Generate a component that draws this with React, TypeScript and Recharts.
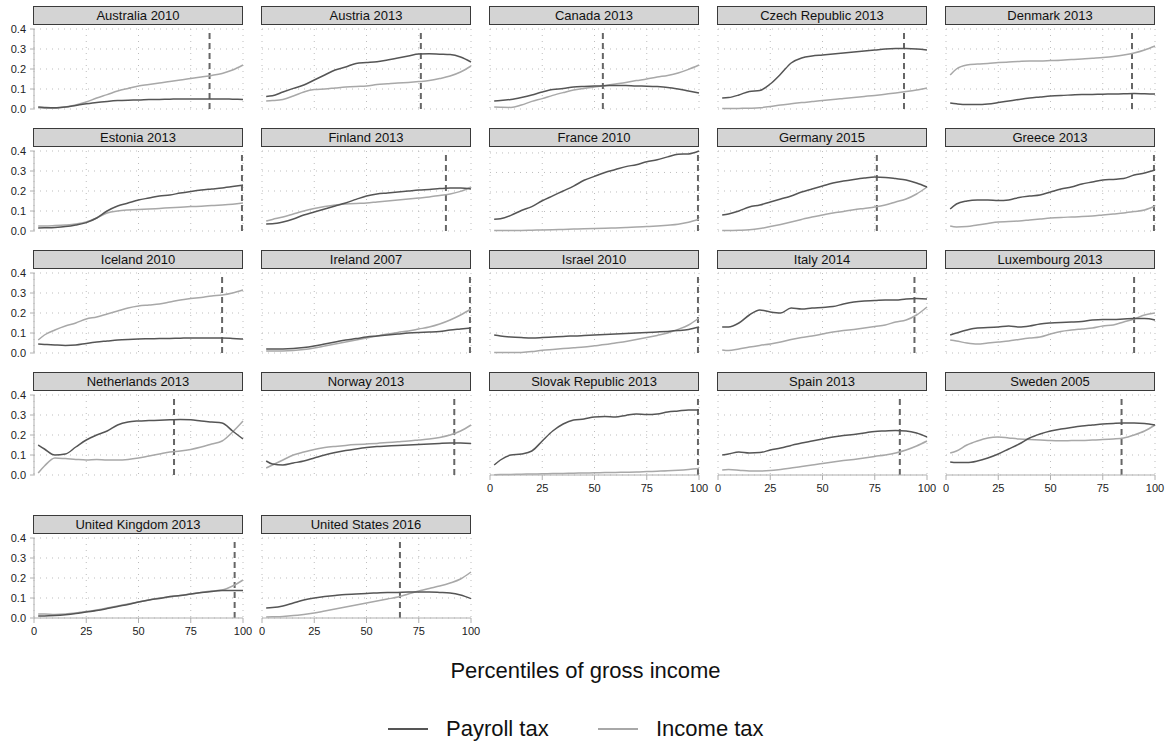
import { LineChart, Line, XAxis, YAxis, CartesianGrid, ReferenceLine } from "recharts";

const pct = [2, 5, 10, 15, 20, 25, 30, 35, 40, 45, 50, 55, 60, 65, 70, 75, 80, 85, 90, 95, 100];

const titles = [
  "Australia 2010", "Austria 2013", "Canada 2013", "Czech Republic 2013", "Denmark 2013",
  "Estonia 2013", "Finland 2013", "France 2010", "Germany 2015", "Greece 2013",
  "Iceland 2010", "Ireland 2007", "Israel 2010", "Italy 2014", "Luxembourg 2013",
  "Netherlands 2013", "Norway 2013", "Slovak Republic 2013", "Spain 2013", "Sweden 2005",
  "United Kingdom 2013", "United States 2016",
];

// percentile of the vertical dashed marker
const cutoffs = [84, 76, 54, 89, 89, 99.5, 88, 99.5, 76, 99.5, 90, 99.5, 99.5, 94, 90, 67, 92, 99.5, 87, 84, 96, 66];

const payroll = [
  [0.01, 0.008, 0.006, 0.01, 0.018, 0.026, 0.033, 0.038, 0.042, 0.044, 0.045, 0.047, 0.048, 0.049, 0.05, 0.05, 0.05, 0.05, 0.05, 0.049, 0.048],
  [0.063, 0.066, 0.085, 0.103, 0.12, 0.145, 0.17, 0.195, 0.21, 0.228, 0.232, 0.236, 0.245, 0.255, 0.265, 0.275, 0.276, 0.274, 0.272, 0.26, 0.235],
  [0.04, 0.042, 0.048, 0.058, 0.07, 0.085, 0.097, 0.102, 0.11, 0.113, 0.115, 0.116, 0.118, 0.117, 0.115, 0.114, 0.112, 0.108, 0.1, 0.09, 0.08],
  [0.055, 0.057, 0.07, 0.088, 0.093, 0.125, 0.175, 0.23, 0.255, 0.265, 0.27, 0.275, 0.28, 0.285, 0.29, 0.295, 0.3, 0.302, 0.302, 0.3, 0.295],
  [0.03, 0.026, 0.022, 0.022, 0.025, 0.032, 0.04, 0.048, 0.055, 0.06, 0.065, 0.068, 0.07, 0.072, 0.073, 0.074, 0.075, 0.076, 0.077, 0.076, 0.075],
  [0.015, 0.016, 0.018, 0.022, 0.03, 0.042, 0.065, 0.1, 0.125, 0.14, 0.155, 0.165, 0.175, 0.18, 0.19, 0.198, 0.205, 0.21, 0.215, 0.222, 0.23],
  [0.035, 0.036, 0.045, 0.06, 0.08, 0.095, 0.11, 0.125, 0.14, 0.158, 0.175, 0.185, 0.19, 0.195, 0.2, 0.205, 0.208, 0.212, 0.215, 0.215, 0.21],
  [0.06, 0.063, 0.08, 0.105, 0.125, 0.155, 0.18, 0.205, 0.23, 0.26, 0.28, 0.3, 0.315, 0.33, 0.34, 0.355, 0.365, 0.38, 0.393, 0.395, 0.41],
  [0.08, 0.085, 0.1, 0.12, 0.13, 0.145, 0.16, 0.175, 0.195, 0.21, 0.225, 0.24, 0.25, 0.258, 0.265, 0.27, 0.268, 0.262, 0.255, 0.24, 0.22],
  [0.11, 0.135, 0.15, 0.155, 0.155, 0.152, 0.155, 0.168, 0.175, 0.18, 0.195, 0.21, 0.22, 0.235, 0.245, 0.255, 0.258, 0.262, 0.28, 0.29, 0.305],
  [0.045, 0.043, 0.04, 0.038, 0.04, 0.048, 0.055, 0.06, 0.065, 0.068, 0.07, 0.071, 0.072, 0.073, 0.074, 0.075, 0.075, 0.075, 0.075, 0.073, 0.07],
  [0.02, 0.02, 0.02, 0.022, 0.027, 0.035, 0.045, 0.055, 0.065, 0.072, 0.08, 0.085, 0.09, 0.095, 0.1, 0.103, 0.105, 0.108, 0.115, 0.12, 0.125],
  [0.09, 0.085, 0.08, 0.077, 0.075, 0.077, 0.08, 0.083, 0.085, 0.087, 0.09, 0.092, 0.095, 0.097, 0.1, 0.102, 0.105, 0.108, 0.112, 0.118, 0.13],
  [0.13, 0.13, 0.15, 0.19, 0.215, 0.205, 0.2, 0.225, 0.22, 0.225, 0.228, 0.232, 0.245, 0.255, 0.26, 0.262, 0.265, 0.265, 0.27, 0.272, 0.27],
  [0.09, 0.1, 0.115, 0.125, 0.127, 0.13, 0.135, 0.13, 0.135, 0.145, 0.15, 0.153, 0.155, 0.158, 0.165, 0.168, 0.168, 0.17, 0.172, 0.172, 0.165],
  [0.15, 0.13, 0.1, 0.105, 0.14, 0.175, 0.2, 0.22, 0.25, 0.265, 0.27, 0.272, 0.274, 0.276, 0.278, 0.276, 0.27, 0.265, 0.26, 0.22, 0.18],
  [0.07, 0.055, 0.05, 0.06, 0.07, 0.085, 0.1, 0.112, 0.122, 0.13, 0.137, 0.142, 0.145, 0.148, 0.15, 0.153, 0.155, 0.158, 0.16, 0.16, 0.158],
  [0.05, 0.075, 0.1, 0.105, 0.12, 0.17, 0.22, 0.255, 0.275, 0.28, 0.29, 0.292, 0.29, 0.298, 0.305, 0.302, 0.305, 0.315, 0.32, 0.325, 0.325],
  [0.1, 0.105, 0.115, 0.11, 0.112, 0.125, 0.135, 0.148, 0.16, 0.17, 0.18, 0.19, 0.197, 0.203, 0.21, 0.218, 0.22, 0.222, 0.22, 0.21, 0.19],
  [0.065, 0.062, 0.062, 0.07, 0.085, 0.105, 0.13, 0.155, 0.185, 0.205, 0.22, 0.23, 0.238, 0.245, 0.25, 0.255, 0.258, 0.26, 0.26, 0.258, 0.25],
  [0.01, 0.01, 0.012, 0.016, 0.022, 0.03, 0.037, 0.047, 0.058, 0.068, 0.08, 0.09, 0.098, 0.107, 0.112, 0.12, 0.127, 0.133, 0.137, 0.138, 0.138],
  [0.05, 0.052, 0.06, 0.075, 0.09, 0.1, 0.107, 0.113, 0.118, 0.12, 0.123, 0.125, 0.127, 0.128, 0.13, 0.13, 0.13, 0.128, 0.125, 0.115, 0.097],
];

const income = [
  [0.006, 0.004, 0.004, 0.01, 0.02, 0.035, 0.055, 0.072, 0.09, 0.103, 0.115, 0.122, 0.13, 0.137, 0.145, 0.152, 0.16, 0.168, 0.178, 0.195, 0.22],
  [0.04, 0.042, 0.048, 0.065, 0.085, 0.097, 0.1, 0.105, 0.11, 0.113, 0.115, 0.122, 0.126, 0.13, 0.133, 0.137, 0.142, 0.152, 0.165, 0.185, 0.215],
  [0.01, 0.009, 0.008, 0.02, 0.038, 0.052, 0.068, 0.082, 0.095, 0.103, 0.11, 0.117, 0.125, 0.133, 0.142, 0.15, 0.16, 0.168, 0.18, 0.198, 0.22],
  [0.002, 0.002, 0.003, 0.004, 0.006, 0.012, 0.02, 0.026, 0.032, 0.037, 0.042, 0.048, 0.053, 0.058, 0.063, 0.068, 0.074, 0.08, 0.087, 0.095, 0.105],
  [0.17, 0.2, 0.22, 0.225, 0.228, 0.232, 0.235, 0.238, 0.24, 0.24, 0.242, 0.244, 0.247, 0.25, 0.254, 0.258, 0.263, 0.27, 0.28, 0.295, 0.315],
  [0.025, 0.025, 0.027, 0.03, 0.035, 0.045, 0.065, 0.09, 0.1, 0.105, 0.108, 0.11, 0.113, 0.116, 0.119, 0.122, 0.124, 0.127, 0.13, 0.134, 0.14],
  [0.05, 0.058, 0.07, 0.085, 0.1, 0.112, 0.122, 0.13, 0.135, 0.138, 0.14, 0.145, 0.15, 0.155, 0.16, 0.165, 0.17, 0.178, 0.185, 0.198, 0.22],
  [0.002, 0.002, 0.003, 0.003, 0.004, 0.005, 0.006, 0.008, 0.01, 0.012, 0.013, 0.014, 0.016, 0.018, 0.02, 0.023, 0.026, 0.03, 0.035, 0.045, 0.06],
  [0.003, 0.003, 0.004, 0.006, 0.012, 0.022, 0.033, 0.045, 0.058, 0.07, 0.08, 0.09, 0.098, 0.106, 0.113, 0.12, 0.13, 0.145, 0.16, 0.185, 0.22],
  [0.025, 0.02, 0.022, 0.03, 0.038, 0.045, 0.047, 0.05, 0.055, 0.06, 0.065, 0.068, 0.07, 0.072, 0.075, 0.08, 0.085, 0.09, 0.097, 0.105, 0.125],
  [0.065, 0.09, 0.115, 0.135, 0.15, 0.17, 0.18, 0.195, 0.21, 0.225, 0.235, 0.24, 0.245, 0.255, 0.265, 0.272, 0.278, 0.285, 0.29, 0.3, 0.315],
  [0.01, 0.01, 0.01, 0.012, 0.017, 0.025, 0.035, 0.045, 0.055, 0.065, 0.075, 0.085, 0.095, 0.103, 0.11, 0.12, 0.13, 0.145, 0.165, 0.19, 0.22],
  [0.002, 0.002, 0.002, 0.003, 0.007, 0.014, 0.018, 0.022, 0.026, 0.03, 0.036, 0.042, 0.05, 0.058, 0.067, 0.077, 0.088, 0.1, 0.118, 0.14, 0.175],
  [0.015, 0.012, 0.02, 0.03, 0.038, 0.045, 0.055, 0.068, 0.078, 0.085, 0.095, 0.105, 0.112, 0.118, 0.125, 0.133, 0.14, 0.155, 0.165, 0.19, 0.23],
  [0.065, 0.06, 0.05, 0.045, 0.05, 0.055, 0.06, 0.068, 0.075, 0.08, 0.095, 0.108, 0.115, 0.12, 0.125, 0.135, 0.14, 0.155, 0.17, 0.19, 0.2],
  [0.01, 0.045, 0.085, 0.082, 0.078, 0.075, 0.078, 0.075, 0.075, 0.078, 0.085, 0.095, 0.105, 0.115, 0.12, 0.128, 0.14, 0.155, 0.17, 0.215, 0.27],
  [0.035, 0.05, 0.075, 0.1, 0.115, 0.128, 0.137, 0.143, 0.148, 0.152, 0.155, 0.158, 0.162, 0.166, 0.17, 0.175, 0.18, 0.188, 0.2, 0.22, 0.25],
  [0.001, 0.002, 0.003, 0.004, 0.005, 0.006, 0.007, 0.008, 0.009, 0.01, 0.011, 0.012, 0.013, 0.014, 0.015, 0.017, 0.019, 0.021, 0.024, 0.028, 0.033],
  [0.025, 0.027, 0.024, 0.02, 0.02, 0.022, 0.028, 0.035, 0.042, 0.05, 0.057, 0.065, 0.072, 0.078, 0.085, 0.093, 0.1, 0.11, 0.125, 0.145, 0.17],
  [0.11, 0.12, 0.15, 0.17, 0.185, 0.19, 0.185, 0.18, 0.177, 0.175, 0.172, 0.171, 0.172, 0.173, 0.175, 0.177, 0.18, 0.185, 0.2, 0.22, 0.25],
  [0.02, 0.02, 0.018, 0.02, 0.025, 0.032, 0.04, 0.05, 0.06, 0.07, 0.08, 0.09, 0.1, 0.105, 0.112, 0.12, 0.128, 0.135, 0.14, 0.16, 0.19],
  [0.005, 0.006, 0.008, 0.012, 0.018, 0.025, 0.035, 0.045, 0.055, 0.065, 0.075, 0.085, 0.095, 0.105, 0.12, 0.135, 0.148, 0.16, 0.175, 0.195, 0.23],
];

const xTicks = [0, 25, 50, 75, 100];
const yTicks = [0, 0.1, 0.2, 0.3, 0.4];

const PAYROLL_COLOR = "#555555";
const INCOME_COLOR = "#a8a8a8";
const FONT = "'Liberation Sans', Arial, Helvetica, sans-serif";

// layout of the small multiples
const COLS = 5;
const PLOT_W = 209;
const PLOT_H = 80;
const Y_AXIS_W = 34;
const PAD = 8;
const colLeft = [34, 262, 490, 718, 946];
const rowTop = [29, 151, 273, 395, 538];

const Panel = ({ idx }: { idx: number }) => {
  const r = Math.floor(idx / COLS);
  const c = idx % COLS;
  const showY = c === 0;
  const showX = idx + COLS >= titles.length;
  const plotLeft = colLeft[c];
  const plotTop = rowTop[r];

  const rows = pct.map((p, i) => ({ pct: p, payroll: payroll[idx][i], income: income[idx][i] }));

  const leftSpace = showY ? Y_AXIS_W : PAD;
  const width = leftSpace + PLOT_W + 14;
  const height = PAD + PLOT_H + (showX ? 26 : PAD);

  return (
    <>
      <div
        style={{
          position: "absolute",
          left: plotLeft - 1,
          top: plotTop - 23,
          width: PLOT_W + 1,
          height: 19,
          boxSizing: "border-box",
          background: "#d4d4d4",
          border: "1px solid #3a3a3a",
          textAlign: "center",
          fontSize: 13,
          lineHeight: "17px",
          color: "#111",
        }}
      >
        {titles[idx]}
      </div>
      <div style={{ position: "absolute", left: plotLeft - leftSpace, top: plotTop - PAD }}>
        <LineChart
          width={width}
          height={height}
          data={rows}
          margin={{ top: PAD, right: 14, bottom: showX ? 0 : PAD, left: showY ? 0 : PAD }}
        >
          <CartesianGrid
            stroke="#bdbdbd"
            strokeDasharray="1 5"
            horizontalValues={yTicks}
            verticalValues={xTicks}
          />
          <XAxis
            type="number"
            dataKey="pct"
            domain={[0, 100]}
            ticks={xTicks}
            hide={!showX}
            height={26}
            tickSize={5}
            tickMargin={4}
            stroke="#b0b0b0"
            tick={{ fill: "#222", fontSize: 11 }}
            interval={0}
          />
          <YAxis
            type="number"
            domain={[0, 0.4]}
            ticks={yTicks}
            hide={!showY}
            width={Y_AXIS_W}
            tickSize={4}
            tickMargin={4}
            stroke="#b0b0b0"
            tick={{ fill: "#222", fontSize: 11 }}
            tickFormatter={(v: number) => v.toFixed(1)}
            interval={0}
          />
          <ReferenceLine x={cutoffs[idx]} stroke="#666" strokeWidth={2} strokeDasharray="6 4" />
          <Line type="monotone" dataKey="income" stroke={INCOME_COLOR} strokeWidth={1.5} dot={false} isAnimationActive={false} />
          <Line type="monotone" dataKey="payroll" stroke={PAYROLL_COLOR} strokeWidth={1.5} dot={false} isAnimationActive={false} />
        </LineChart>
      </div>
    </>
  );
};

export default function App() {
  return (
    <div
      style={{
        position: "absolute",
        left: 0,
        top: 0,
        width: 1171,
        height: 742,
        background: "#fff",
        fontFamily: FONT,
        overflow: "hidden",
      }}
    >
      {titles.map((_, i) => (
        <Panel key={i} idx={i} />
      ))}

      {/* shared x axis title */}
      <div style={{ position: "absolute", left: 0, width: 1171, top: 658, textAlign: "center", fontSize: 22, lineHeight: "26px", color: "#111" }}>
        Percentiles of gross income
      </div>

      {/* legend */}
      <div style={{ position: "absolute", left: 388, top: 728, width: 40, height: 2, background: PAYROLL_COLOR }} />
      <div style={{ position: "absolute", left: 446, top: 716, fontSize: 22, lineHeight: "26px", color: "#111" }}>Payroll tax</div>
      <div style={{ position: "absolute", left: 598, top: 728, width: 40, height: 2, background: INCOME_COLOR }} />
      <div style={{ position: "absolute", left: 656, top: 716, fontSize: 22, lineHeight: "26px", color: "#111" }}>Income tax</div>
    </div>
  );
}
